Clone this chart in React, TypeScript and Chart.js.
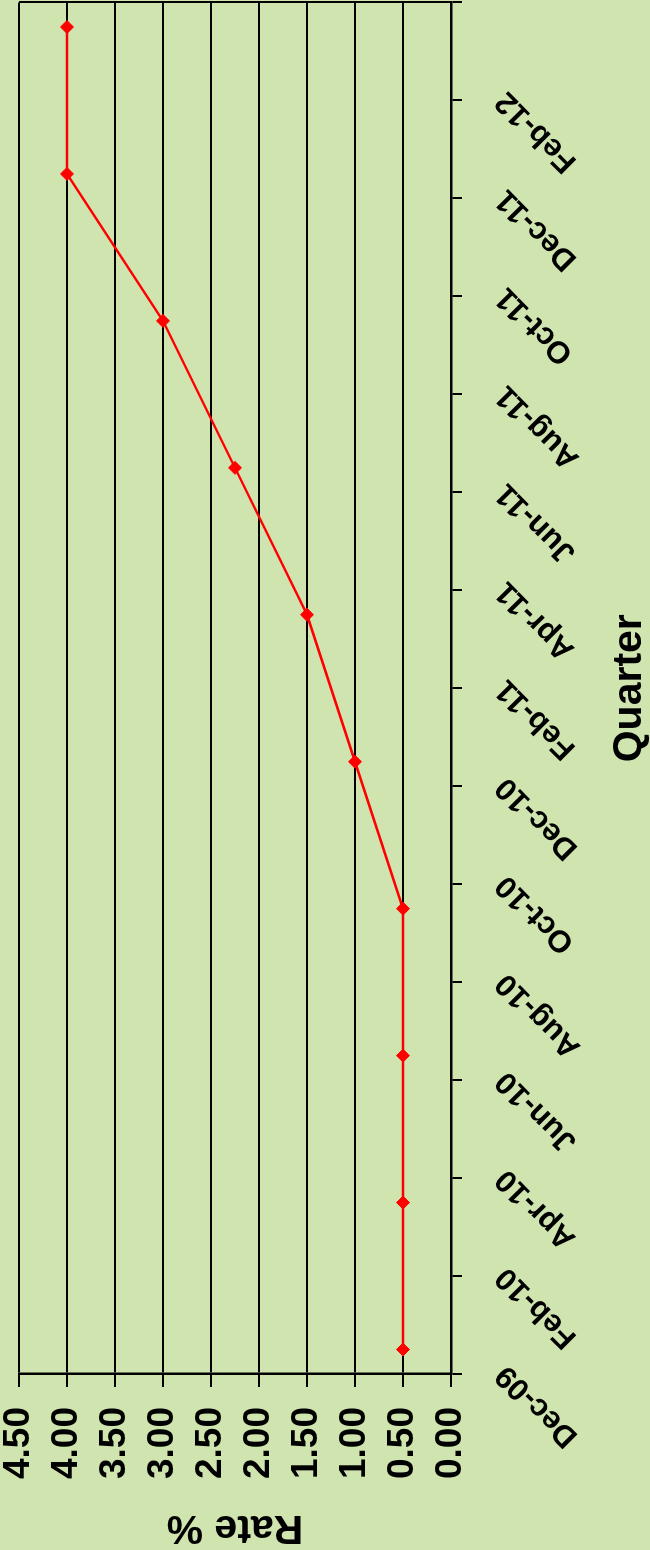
import React, { useEffect, useRef } from "react";
import { Chart, registerables } from "chart.js";

Chart.register(...registerables);

// Quarterly observation dates and rate values (%)
const quarterDates = [
  "2009-12-16", "2010-03-16", "2010-06-16", "2010-09-16", "2010-12-16",
  "2011-03-16", "2011-06-16", "2011-09-16", "2011-12-16", "2012-03-16",
];
const rates = [0.5, 0.5, 0.5, 0.5, 1.0, 1.5, 2.25, 3.0, 4.0, 4.0];

// Category (date) axis tick labels, every two months starting Dec-09
const tickLabels = [
  "Dec-09", "Feb-10", "Apr-10", "Jun-10", "Aug-10", "Oct-10", "Dec-10",
  "Feb-11", "Apr-11", "Jun-11", "Aug-11", "Oct-11", "Dec-11", "Feb-12",
];
const rateTicks = [0, 0.5, 1, 1.5, 2, 2.5, 3, 3.5, 4, 4.5];

const xTitle = "Quarter";
const yTitle = "Rate %";

// months elapsed since 1 Dec 2009
function monthOffset(d: string): number {
  const [y, m, day] = d.split("-").map(Number);
  return (y - 2009) * 12 + (m - 12) + (day - 1) / 30;
}

const FONT = "'Liberation Sans', Arial, Helvetica, sans-serif";
const CANVAS_W = 1555;
const CANVAS_H = 650;

export default function App() {
  const ref = useRef<HTMLCanvasElement | null>(null);

  useEffect(() => {
    if (!ref.current) return;
    const points = quarterDates.map((d, i) => ({ x: monthOffset(d), y: rates[i] }));
    const xMax = tickLabels.length * 2;
    const chart = new Chart(ref.current, {
      type: "line",
      data: {
        datasets: [
          {
            data: points,
            borderColor: "#FF0000",
            backgroundColor: "#FF0000",
            borderWidth: 2.5,
            pointStyle: "rectRot",
            pointRadius: 6.5,
            pointBorderWidth: 1,
            pointBorderColor: "#FF0000",
            pointBackgroundColor: "#FF0000",
            tension: 0,
            fill: false,
          },
        ],
      },
      options: {
        animation: false,
        responsive: false,
        devicePixelRatio: 1,
        layout: { padding: { top: 19, right: 2, left: 0, bottom: 0 } },
        plugins: { legend: { display: false }, tooltip: { enabled: false } },
        scales: {
          x: {
            type: "linear",
            min: 0,
            max: xMax,
            afterFit: (s: any) => {
              s.height = 199;
              s.paddingLeft = 0;
              s.paddingRight = 0;
            },
            afterBuildTicks: (s: any) => {
              s.ticks = Array.from({ length: tickLabels.length + 1 }, (_, i) => ({ value: i * 2 }));
            },
            ticks: {
              autoSkip: false,
              maxRotation: 45,
              minRotation: 45,
              padding: 26,
              labelOffset: 4,
              color: "#000",
              font: { family: FONT, size: 31, weight: "bold" },
              callback: (v: any) => tickLabels[Math.round(Number(v) / 2)] ?? "",
            },
            grid: {
              color: (ctx: any) => (ctx.tick && ctx.tick.value === xMax ? "#000" : "rgba(0,0,0,0)"),
              tickColor: "#000",
              lineWidth: 2,
              tickLength: 11,
              drawOnChartArea: true,
            },
            border: { display: true, color: "#000", width: 2.5 },
            title: {
              display: true,
              text: xTitle,
              color: "#000",
              padding: 0,
              font: { family: FONT, size: 41, weight: "bold", lineHeight: 1.0 },
            },
          },
          y: {
            min: 0,
            max: 4.5,
            afterFit: (s: any) => {
              s.width = 176;
              s.paddingTop = 0;
              s.paddingBottom = 0;
            },
            afterBuildTicks: (s: any) => {
              s.ticks = rateTicks.map((v) => ({ value: v }));
            },
            ticks: {
              padding: 20,
              color: "#000",
              font: { family: FONT, size: 37, weight: "bold" },
              callback: (v: any) => Number(v).toFixed(2),
            },
            grid: {
              color: "#000",
              lineWidth: 2,
              tickLength: 13,
              drawOnChartArea: true,
            },
            border: { display: true, color: "#000", width: 2.5 },
            title: {
              display: true,
              text: yTitle,
              color: "#000",
              padding: { top: 2, bottom: 0 },
              font: { family: FONT, size: 41, weight: "bold", lineHeight: 1.0 },
            },
          },
        },
      },
    });
    return () => chart.destroy();
  }, []);

  return (
    <div
      style={{
        position: "fixed",
        left: 0,
        top: 0,
        width: 650,
        height: 1550,
        overflow: "hidden",
        background: "#D0E4B0",
      }}
    >
      <div
        style={{
          position: "absolute",
          left: 0,
          top: 0,
          width: CANVAS_W,
          height: CANVAS_H,
          transformOrigin: "0 0",
          transform: "translate(0px, 1550px) rotate(-90deg)",
        }}
      >
        <canvas ref={ref} width={CANVAS_W} height={CANVAS_H} style={{ display: "block" }} />
      </div>
    </div>
  );
}
